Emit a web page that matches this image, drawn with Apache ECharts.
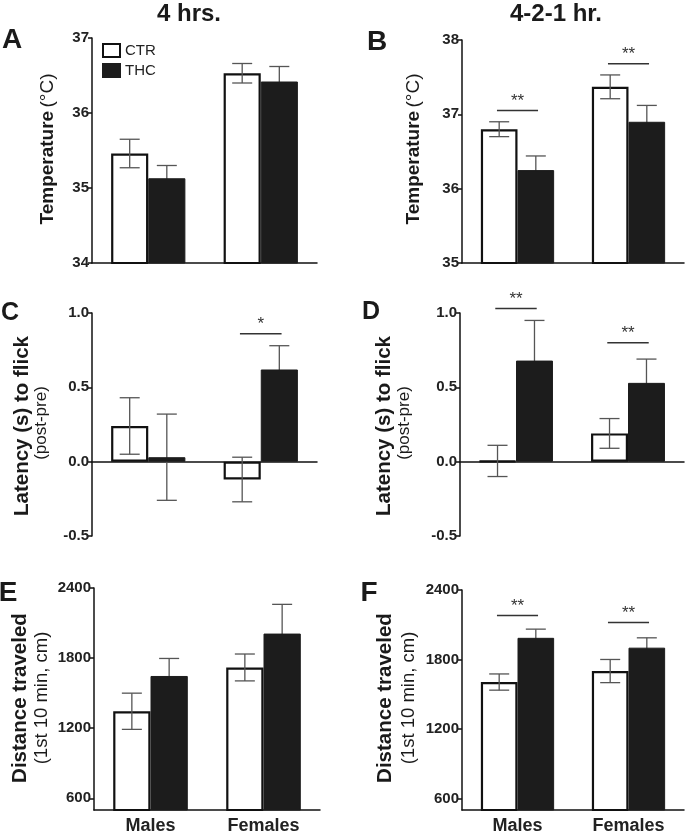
<!DOCTYPE html>
<html>
<head>
<meta charset="utf-8">
<script src="https://cdn.jsdelivr.net/npm/echarts@6/dist/echarts.min.js"></script>
<style>
  html, body { margin: 0; padding: 0; background: #fff; }
  #chart { width: 685px; height: 835px; }
</style>
</head>
<body>
<div id="chart"></div>
<script>
// categories
const groups = ['Males', 'Females']

// A - temperature, 4 hrs.
const tempA_ctr = [35.46, 36.53]
const tempA_ctrSem = [0.19, 0.13]
const tempA_thc = [35.13, 36.42]
const tempA_thcSem = [0.17, 0.2]

// B - temperature, 4-2-1 hr.
const tempB_ctr = [36.8, 37.37]
const tempB_ctrSem = [0.1, 0.16]
const tempB_thc = [36.25, 36.9]
const tempB_thcSem = [0.19, 0.22]

// C - tail flick latency, 4 hrs.
const latC_ctr = [0.24, -0.12]
const latC_ctrSem = [0.19, 0.15]
const latC_thc = [0.03, 0.62]
const latC_thcSem = [0.29, 0.16]

// D - tail flick latency, 4-2-1 hr.
const latD_ctr = [0.005, 0.19]
const latD_ctrSem = [0.105, 0.1]
const latD_thc = [0.68, 0.53]
const latD_thcSem = [0.27, 0.16]

// E - distance, 4 hrs.
const distE_ctr = [1345, 1720]
const distE_ctrSem = [155, 115]
const distE_thc = [1647, 2010]
const distE_thcSem = [150, 250]

// F - distance, 4-2-1 hr.
const distF_ctr = [1605, 1700]
const distF_ctrSem = [70, 100]
const distF_thc = [1987, 1902]
const distF_thcSem = [75, 85]

// significance brackets: [group index, height], and their stars
const sigB = [[0, 37.05], [1, 37.68]]
const sigB_text = ['**', '**']
const sigC = [[1, 0.86]]
const sigC_text = ['*']
const sigD = [[0, 1.03], [1, 0.8]]
const sigD_text = ['**', '**']
const sigF = [[0, 2180], [1, 2120]]
const sigF_text = ['**', '**']

// axis ranges and ticks
const tempA_ticks = [34, 37, 1]
const tempB_ticks = [35, 38, 1]
const lat_ticks = [-0.5, 1.0, 0.5]
const dist_range = [500, 2400]
const dist_ticks = [600, 1200, 1800, 2400]

const FONT = 'Liberation Sans, Arial, sans-serif'
const AX = '#111'
const ERR = '#555'

var chartDom = document.getElementById('chart')
var myChart = echarts.init(chartDom)

// panel boxes (left, top, width, height)
const boxes = [
  [92, 38, 225, 225],
  [462, 40, 222, 223],
  [92, 313, 225, 223],
  [460, 313, 224, 223],
  [94, 588, 226, 225],
  [462, 590, 222, 223]
]

const grids = boxes.map(b => ({ left: b[0], top: b[1], width: b[2], height: b[3], containLabel: false }))

const xAxes = boxes.map((b, i) => ({
  type: 'category',
  gridIndex: i,
  data: groups,
  axisLine: { show: true, onZero: true, lineStyle: { color: AX, width: 1.5 } },
  axisTick: { show: false },
  axisLabel: {
    show: i >= 4,
    margin: 7,
    fontFamily: FONT,
    fontWeight: 'bold',
    fontSize: 18,
    color: '#222'
  },
  splitLine: { show: false }
}))

const tickLabel = { margin: 3, fontFamily: FONT, fontWeight: 'bold', fontSize: 15, color: '#222' }

function yAxis(i, ticks, fmt) {
  return {
    type: 'value',
    gridIndex: i,
    min: ticks[0],
    max: ticks[1],
    interval: ticks[2],
    axisLine: { show: true, lineStyle: { color: AX, width: 1.5 } },
    axisTick: { show: true, length: 4, lineStyle: { color: AX, width: 1.5 } },
    axisLabel: Object.assign({ formatter: fmt }, tickLabel),
    splitLine: { show: false }
  }
}

function distAxis(i) {
  return {
    type: 'value', gridIndex: i, min: dist_range[0], max: dist_range[1],
    axisLine: { show: true, lineStyle: { color: AX, width: 1.5 } },
    axisTick: { show: true, length: 4, customValues: dist_ticks, lineStyle: { color: AX, width: 1.5 } },
    axisLabel: Object.assign({ customValues: dist_ticks, formatter: v => String(v) }, tickLabel),
    splitLine: { show: false }
  }
}

const yAxes = [
  yAxis(0, tempA_ticks, v => v.toFixed(0)),
  yAxis(1, tempB_ticks, v => v.toFixed(0)),
  yAxis(2, lat_ticks, v => v.toFixed(1)),
  yAxis(3, lat_ticks, v => v.toFixed(1)),
  distAxis(4),
  distAxis(5)
]

const OFF = 0.165 // bar centre offset as part of the band

function barPair(i, ctr, thc) {
  return [
    {
      name: 'CTR', type: 'bar', xAxisIndex: i, yAxisIndex: i,
      data: ctr, barWidth: '33%', barGap: '0%', z: 2,
      itemStyle: { color: '#fff', borderColor: '#111', borderWidth: 2.2 },
      emphasis: { disabled: true }
    },
    {
      name: 'THC', type: 'bar', xAxisIndex: i, yAxisIndex: i,
      data: thc, barWidth: '33%', barGap: '0%', z: 2,
      itemStyle: { color: '#1c1c1c', borderColor: '#1c1c1c', borderWidth: 1 },
      emphasis: { disabled: true }
    }
  ]
}

function errBars(i, mean, sem, side, z) {
  return {
    name: 'err', type: 'custom', xAxisIndex: i, yAxisIndex: i, z: z,
    data: mean.map((m, k) => [k, m - sem[k], m + sem[k]]),
    encode: { x: 0, y: [1, 2] },
    silent: true,
    renderItem: function (params, api) {
      const k = api.value(0)
      const lo = api.coord([k, api.value(1)])
      const hi = api.coord([k, api.value(2)])
      const band = api.size([1, 0])[0]
      const x = lo[0] + side * band * OFF
      const cap = 10
      const st = { stroke: ERR, lineWidth: 1.3 }
      return {
        type: 'group',
        children: [
          { type: 'line', shape: { x1: x, y1: lo[1], x2: x, y2: hi[1] }, style: st },
          { type: 'line', shape: { x1: x - cap, y1: hi[1], x2: x + cap, y2: hi[1] }, style: st },
          { type: 'line', shape: { x1: x - cap, y1: lo[1], x2: x + cap, y2: lo[1] }, style: st }
        ]
      }
    }
  }
}

function sigBars(i, sig, stars) {
  return {
    name: 'sig', type: 'custom', xAxisIndex: i, yAxisIndex: i, z: 4,
    data: sig,
    encode: { x: 0, y: 1 },
    silent: true,
    renderItem: function (params, api) {
      const p = api.coord([api.value(0), api.value(1)])
      const band = api.size([1, 0])[0]
      const half = band * 0.185
      return {
        type: 'group',
        children: [
          { type: 'line', shape: { x1: p[0] - half, y1: p[1], x2: p[0] + half, y2: p[1] }, style: { stroke: '#333', lineWidth: 1.5 } },
          {
            type: 'text',
            style: {
              x: p[0], y: p[1] - 1, text: stars[params.dataIndex],
              textAlign: 'center', textVerticalAlign: 'bottom',
              fontFamily: FONT, fontSize: 17, fill: '#333'
            }
          }
        ]
      }
    }
  }
}

const series = []
const panels = [
  [tempA_ctr, tempA_ctrSem, tempA_thc, tempA_thcSem],
  [tempB_ctr, tempB_ctrSem, tempB_thc, tempB_thcSem],
  [latC_ctr, latC_ctrSem, latC_thc, latC_thcSem],
  [latD_ctr, latD_ctrSem, latD_thc, latD_thcSem],
  [distE_ctr, distE_ctrSem, distE_thc, distE_thcSem],
  [distF_ctr, distF_ctrSem, distF_thc, distF_thcSem]
]
panels.forEach((p, i) => {
  series.push(errBars(i, p[2], p[3], 1, 1))
  barPair(i, p[0], p[2]).forEach(s => series.push(s))
  series.push(errBars(i, p[0], p[1], -1, 3))
})
series.push(sigBars(1, sigB, sigB_text))
series.push(sigBars(2, sigC, sigC_text))
series.push(sigBars(3, sigD, sigD_text))
series.push(sigBars(5, sigF, sigF_text))

// texts: titles, panel letters, axis names
function txt(x, y, text, size, bold, rotate) {
  return {
    type: 'text', x: x, y: y, rotation: rotate ? Math.PI / 2 : 0, silent: true,
    style: {
      text: text, fontFamily: FONT, fontSize: size, fontWeight: bold ? 'bold' : 'normal',
      fill: '#1a1a1a', textAlign: 'center', textVerticalAlign: 'middle'
    }
  }
}

function tempTitle(x, y) {
  return {
    type: 'text', x: x, y: y, rotation: Math.PI / 2, silent: true,
    style: {
      text: '{b|Temperature} {n|(°C)}',
      textAlign: 'center', textVerticalAlign: 'middle',
      rich: {
        b: { fontFamily: FONT, fontSize: 19, fontWeight: 'bold', fill: '#1a1a1a' },
        n: { fontFamily: FONT, fontSize: 19, fill: '#1a1a1a' }
      }
    }
  }
}

const graphics = [
  txt(189, 14, '4 hrs.', 24, true),
  txt(556, 14, '4-2-1 hr.', 24, true),
  txt(12, 40, 'A', 28, true),
  txt(377, 42, 'B', 28, true),
  txt(10, 313, 'C', 25, true),
  txt(371, 312, 'D', 25, true),
  txt(8, 593, 'E', 28, true),
  txt(369, 593, 'F', 28, true),
  tempTitle(48, 149),
  tempTitle(414, 149),
  txt(22, 426, 'Latency (s) to flick', 20.5, true, true),
  txt(41, 423, '(post-pre)', 17, false, true),
  txt(384, 426, 'Latency (s) to flick', 20.5, true, true),
  txt(404, 423, '(post-pre)', 17, false, true),
  txt(20, 698, 'Distance traveled', 20.5, true, true),
  txt(42, 698, '(1st 10 min, cm)', 18.5, false, true),
  txt(385, 698, 'Distance traveled', 20.5, true, true),
  txt(409, 698, '(1st 10 min, cm)', 18.5, false, true)
]

var option = {
  animation: false,
  backgroundColor: '#fff',
  legend: {
    data: ['CTR', 'THC'],
    orient: 'vertical',
    left: 97,
    top: 38,
    itemWidth: 17,
    itemHeight: 13,
    itemGap: 5,
    icon: 'rect',
    textStyle: { fontFamily: FONT, fontSize: 15, color: '#222' },
    selectedMode: false
  },
  grid: grids,
  xAxis: xAxes,
  yAxis: yAxes,
  series: series,
  graphic: graphics
}
myChart.setOption(option)
</script>
</body>
</html>
